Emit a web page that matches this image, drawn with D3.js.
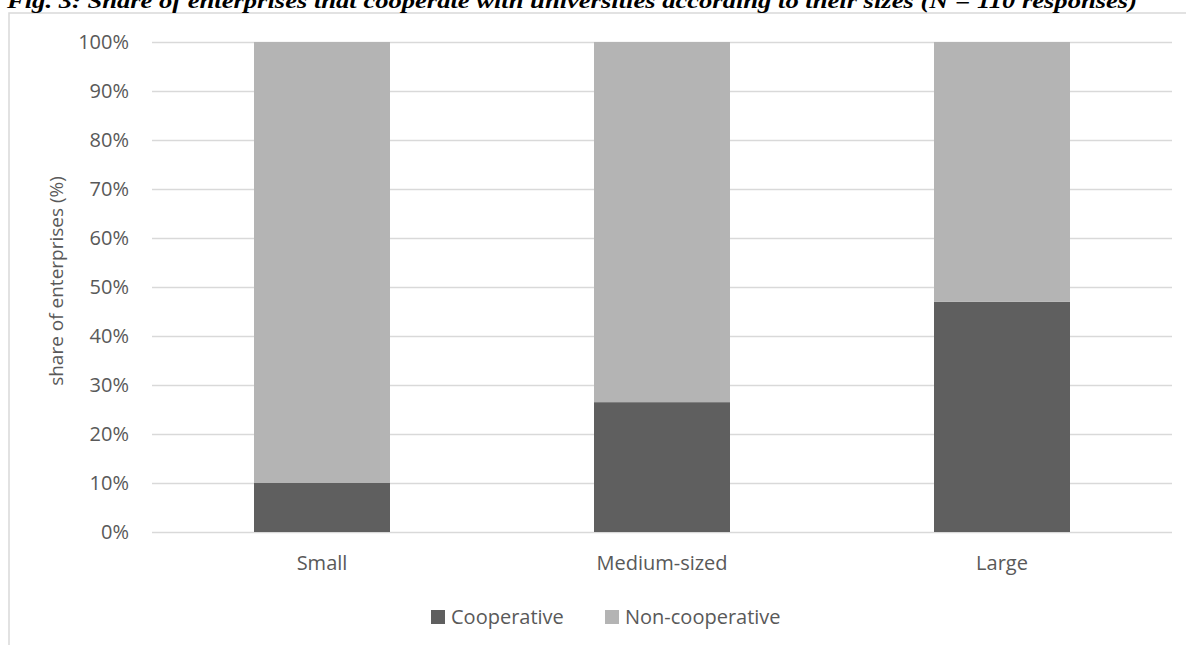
<!DOCTYPE html>
<html>
<head>
<meta charset="utf-8">
<script src="https://cdn.jsdelivr.net/npm/d3@7"></script>
<style>
  html, body { margin: 0; padding: 0; background: #fff; overflow: hidden; }
  svg { display: block; }
</style>
</head>
<body>
<svg id="chart"></svg>
<script>
// chart data
const categories = ['Small', 'Medium-sized', 'Large'];
const cooperative = [10, 26.5, 47];
const nonCooperative = [90, 73.5, 53];
const seriesNames = ['Cooperative', 'Non-cooperative'];
const yTicks = [0, 10, 20, 30, 40, 50, 60, 70, 80, 90, 100];
const titleText = 'Fig. 3: Share of enterprises that cooperate with universities according to their sizes (N = 110 responses)';

const svgWidth = 1186;
const svgHeight = 645;
const margin = { top: 42, right: 14, bottom: 113, left: 152 };
const width = svgWidth - margin.left - margin.right;
const height = svgHeight - margin.top - margin.bottom;

const colors = { Cooperative: '#5f5f5f', 'Non-cooperative': '#b4b4b4' };
const textColor = '#595959';
const font = "'Open Sans', 'Noto Sans', sans-serif";

const svg = d3.select('#chart')
  .attr('width', svgWidth)
  .attr('height', svgHeight);

// Chart frame (only the left and top edges are in view)
svg.append('rect')
  .attr('x', 9)
  .attr('y', 13)
  .attr('width', svgWidth + 20)
  .attr('height', svgHeight + 20)
  .attr('fill', 'none')
  .attr('stroke', '#d9d9d9')
  .attr('stroke-width', 1.5);

// Figure caption, clipped at the top edge like in the source
svg.append('text')
  .attr('x', 7)
  .attr('y', 8)
  .attr('textLength', 1130)
  .attr('lengthAdjust', 'spacingAndGlyphs')
  .style('font-family', "'Liberation Serif', 'Times New Roman', serif")
  .style('font-weight', 'bold')
  .style('font-style', 'italic')
  .style('font-size', '22px')
  .attr('fill', '#000')
  .text(titleText);

const g = svg.append('g')
  .attr('transform', `translate(${margin.left},${margin.top})`);

// Scales
const xScale = d3.scaleBand()
  .domain(categories)
  .range([0, width])
  .paddingInner(0.6)
  .paddingOuter(0.3);

const yScale = d3.scaleLinear()
  .domain([0, 100])
  .range([height, 0]);

// Gridlines + y labels
const yAxis = g.append('g')
  .call(d3.axisLeft(yScale)
    .tickValues(yTicks)
    .tickSize(-width)
    .tickPadding(23)
    .tickFormat((d) => d + '%'));
yAxis.select('.domain').remove();
yAxis.selectAll('.tick line')
  .attr('stroke', '#d9d9d9')
  .attr('stroke-width', 1.5);
yAxis.selectAll('.tick text')
  .attr('fill', textColor)
  .style('font-family', font)
  .style('font-size', '20px');

// Stacked bars
const rows = categories.map((c, i) => ({
  category: c,
  Cooperative: cooperative[i],
  'Non-cooperative': nonCooperative[i],
}));
const stacked = d3.stack().keys(seriesNames)(rows);

g.selectAll('.series')
  .data(stacked)
  .enter()
  .append('g')
  .attr('class', 'series')
  .attr('fill', (d) => colors[d.key])
  .selectAll('rect')
  .data((d) => d)
  .enter()
  .append('rect')
  .attr('x', (d) => xScale(d.data.category))
  .attr('y', (d) => yScale(d[1]))
  .attr('width', xScale.bandwidth())
  .attr('height', (d) => yScale(d[0]) - yScale(d[1]));

// x labels
const xAxis = g.append('g')
  .attr('transform', `translate(0,${height})`)
  .call(d3.axisBottom(xScale).tickSize(0).tickPadding(24));
xAxis.select('.domain').remove();
xAxis.selectAll('.tick text')
  .attr('fill', textColor)
  .style('font-family', font)
  .style('font-size', '20px');

// y axis title
svg.append('text')
  .attr('transform', `translate(63,${margin.top + height / 2 - 6}) rotate(-90)`)
  .attr('text-anchor', 'middle')
  .attr('fill', textColor)
  .style('font-family', font)
  .style('font-size', '19px')
  .text('share of enterprises (%)');

// Legend
const legendX = [431, 605];
const legend = svg.append('g').attr('transform', 'translate(0,610)');
seriesNames.forEach((name, i) => {
  legend.append('rect')
    .attr('x', legendX[i])
    .attr('y', 0)
    .attr('width', 14)
    .attr('height', 14)
    .attr('fill', colors[name]);
  legend.append('text')
    .attr('x', legendX[i] + 20)
    .attr('y', 14)
    .attr('fill', textColor)
    .style('font-family', font)
    .style('font-size', '20px')
    .text(name);
});
</script>
</body>
</html>
